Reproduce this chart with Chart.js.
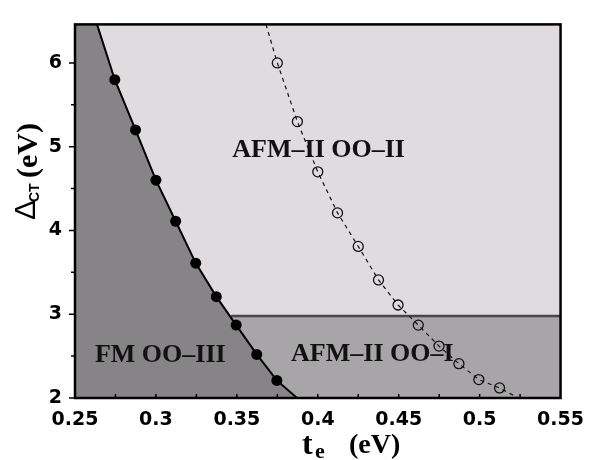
<!DOCTYPE html>
<html>
<head>
<meta charset="utf-8">
<title>Phase diagram</title>
<script src="https://cdn.jsdelivr.net/npm/chart.js@4.4.1/dist/chart.umd.min.js"></script>
<style>
    html, body { margin: 0; padding: 0; background: #ffffff; }
    #wrap { width: 595px; height: 460px; }
</style>
</head>
<body>
<div id="wrap"><canvas id="phaseChart" width="595" height="460"></canvas></div>
<script>
// =============================================
// DATA
// =============================================

// axis ticks
const xTicks      = [0.25, 0.3, 0.35, 0.4, 0.45, 0.5, 0.55];
const xTickLabels = ["0.25", "0.3", "0.35", "0.4", "0.45", "0.5", "0.55"];
const yTicks      = [2, 3, 4, 5, 6];
const yTickLabels = ["2", "3", "4", "5", "6"];

// FM OO-III boundary (solid line, runs off the frame at both ends)
const fmLineT = [0.2636, 0.2746, 0.2874, 0.300, 0.3122, 0.3246, 0.3373, 0.3496, 0.3623, 0.3747, 0.3872];
const fmLineD = [6.46,   5.80,   5.20,   4.60,  4.11,   3.61,   3.21,   2.87,   2.52,   2.21,   2.00];

// filled dots on that boundary
const fmDotT = [0.2746, 0.2874, 0.300, 0.3122, 0.3246, 0.3373, 0.3496, 0.3623, 0.3747];
const fmDotD = [5.80,   5.20,   4.60,  4.11,   3.61,   3.21,   2.87,   2.52,   2.21];

// open circles (dashed line)
const afmDotT = [0.375, 0.3874, 0.400, 0.4122, 0.425, 0.4375, 0.4496, 0.4621, 0.4749, 0.4872, 0.4995, 0.5123];
const afmDotD = [6.00,  5.30,   4.70,  4.21,   3.81,  3.41,   3.11,   2.87,   2.62,   2.41,   2.22,   2.12];

// dashed line, extended to the frame
const afmLineT = [0.368, 0.375, 0.3874, 0.400, 0.4122, 0.425, 0.4375, 0.4496, 0.4621, 0.4749, 0.4872, 0.4995, 0.5123, 0.524];
const afmLineD = [6.46,  6.00,  5.30,   4.70,  4.21,   3.81,  3.41,   3.11,   2.87,   2.62,   2.41,   2.22,   2.12,   2.00];

// OO-I / OO-II border (horizontal)
const ooLineT = [0.3465, 0.55];
const ooLineD = [2.98,   2.98];

// phase labels (left end, baseline) in data units
const phaseNames = ["AFM\u2013II OO\u2013II", "FM OO\u2013III", "AFM\u2013II OO\u2013I"];
const phaseT     = [0.3472, 0.2623, 0.3835];
const phaseD     = [4.874,  2.425,  2.437];

// =============================================
// HELPERS
// =============================================

function toPoints(xs, ys) {
    return xs.map((x, i) => ({ x: x, y: ys[i] }));
}

const COLOR_LIGHT = "#dfdbdf";
const COLOR_MID   = "#a7a5a7";
const COLOR_DARK  = "#868486";

// dark region: boundary + top-left corner of the frame
const darkFill = [{ x: 0.25, y: 6.46 }].concat(toPoints(fmLineT, fmLineD));

// =============================================
// PLUGIN: background, frame, ticks, titles, labels
// =============================================

const decorPlugin = {
    id: "decor",

    beforeDatasetsDraw(chart) {
        const { ctx, chartArea: a } = chart;
        ctx.save();
        ctx.fillStyle = COLOR_LIGHT;
        ctx.fillRect(a.left, a.top, a.right - a.left, a.bottom - a.top);
        ctx.restore();
    },

    afterDatasetsDraw(chart) {
        const { ctx, chartArea: a } = chart;
        const xs = chart.scales.x;
        const ys = chart.scales.y;

        ctx.save();

        // phase labels
        ctx.fillStyle = "#111";
        ctx.font = "bold 26px 'Liberation Serif', 'Times New Roman', serif";
        ctx.textAlign = "left";
        ctx.textBaseline = "alphabetic";
        phaseNames.forEach((name, i) => {
            ctx.fillText(name, xs.getPixelForValue(phaseT[i]), ys.getPixelForValue(phaseD[i]));
        });

        // frame
        ctx.strokeStyle = "#000";
        ctx.lineWidth = 2.5;
        ctx.strokeRect(a.left, a.top, a.right - a.left, a.bottom - a.top);

        // y ticks (outside)
        ctx.lineWidth = 1.5;
        ctx.beginPath();
        for (let v = 2; v <= 6.001; v += 0.5) {
            const py = ys.getPixelForValue(v);
            const len = (Math.abs(v - Math.round(v)) < 0.01) ? 6 : 4;
            ctx.moveTo(a.left - len, py);
            ctx.lineTo(a.left, py);
        }
        // x ticks (inside)
        for (let v = 0.275; v <= 0.5251; v += 0.025) {
            const px = xs.getPixelForValue(v);
            ctx.moveTo(px, a.bottom);
            ctx.lineTo(px, a.bottom - 4);
        }
        ctx.stroke();

        // x title: t_e (eV)
        ctx.fillStyle = "#000";
        ctx.font = "bold 32px 'Liberation Serif', serif";
        ctx.fillText("t", 302, 454);
        ctx.font = "bold 22px 'Liberation Serif', serif";
        ctx.fillText("e", 315, 458);
        ctx.font = "bold 28px 'Liberation Serif', serif";
        ctx.fillText("(eV)", 349, 453);

        // y title: Δ_CT (eV), rotated
        ctx.save();
        ctx.rotate(-Math.PI / 2);
        ctx.font = "30px 'Liberation Sans', Arial, sans-serif";
        ctx.fillText("\u0394", -220, 35);
        ctx.font = "bold 14px 'Liberation Sans', Arial, sans-serif";
        ctx.fillText("CT", -202, 39);
        ctx.font = "bold 30px 'Liberation Serif', serif";
        ctx.fillText("(eV)", -178, 37);
        ctx.restore();

        ctx.restore();
    }
};

// =============================================
// CHART
// =============================================

const tickFont = { family: "'DejaVu Sans', sans-serif", size: 19, weight: "bold" };

new Chart(document.getElementById("phaseChart"), {

    type: "line",

    data: {
        datasets: [
            {
                // open circles
                data: toPoints(afmDotT, afmDotD),
                showLine: false,
                pointRadius: 5,
                pointBorderWidth: 1.3,
                pointBorderColor: "#111",
                pointBackgroundColor: "rgba(0,0,0,0)",
                order: 0
            },
            {
                // dashed line
                data: toPoints(afmLineT, afmLineD),
                borderColor: "#111",
                borderWidth: 1.2,
                borderDash: [4, 4],
                pointRadius: 0,
                tension: 0,
                order: 1
            },
            {
                // filled dots
                data: toPoints(fmDotT, fmDotD),
                showLine: false,
                pointRadius: 5.5,
                pointBorderWidth: 0,
                pointBackgroundColor: "#000",
                order: 2
            },
            {
                // FM boundary line
                data: toPoints(fmLineT, fmLineD),
                borderColor: "#000",
                borderWidth: 2,
                pointRadius: 0,
                tension: 0,
                order: 3
            },
            {
                // FM OO-III region
                data: darkFill,
                borderWidth: 0,
                borderColor: "rgba(0,0,0,0)",
                backgroundColor: COLOR_DARK,
                fill: "start",
                pointRadius: 0,
                tension: 0,
                order: 4
            },
            {
                // AFM-II OO-I region + its upper border
                data: toPoints(ooLineT, ooLineD),
                borderColor: "#474547",
                borderWidth: 2.5,
                backgroundColor: COLOR_MID,
                fill: "start",
                pointRadius: 0,
                order: 5
            }
        ]
    },

    options: {
        responsive: false,
        animation: false,
        devicePixelRatio: 1,
        layout: { padding: { top: 10, right: 33, left: 0, bottom: 0 } },
        plugins: {
            legend: { display: false },
            tooltip: { enabled: false },
            title: { display: false }
        },
        scales: {
            x: {
                type: "linear",
                min: 0.25,
                max: 0.55,
                grid: { display: false, drawTicks: false },
                border: { display: false },
                afterBuildTicks: s => { s.ticks = xTicks.map(v => ({ value: v })); },
                afterFit: s => { s.height = 62; },
                ticks: {
                    padding: 11,
                    color: "#000",
                    font: tickFont,
                    maxRotation: 0,
                    callback: v => xTickLabels[xTicks.findIndex(t => Math.abs(t - v) < 1e-6)]
                }
            },
            y: {
                type: "linear",
                min: 2,
                max: 6.46,
                grid: { display: false, drawTicks: false },
                border: { display: false },
                afterBuildTicks: s => { s.ticks = yTicks.map(v => ({ value: v })); },
                afterFit: s => { s.width = 75; },
                ticks: {
                    padding: 13,
                    color: "#000",
                    font: tickFont,
                    callback: v => yTickLabels[yTicks.findIndex(t => Math.abs(t - v) < 1e-6)]
                }
            }
        }
    },

    plugins: [decorPlugin]

});
</script>
</body>
</html>
